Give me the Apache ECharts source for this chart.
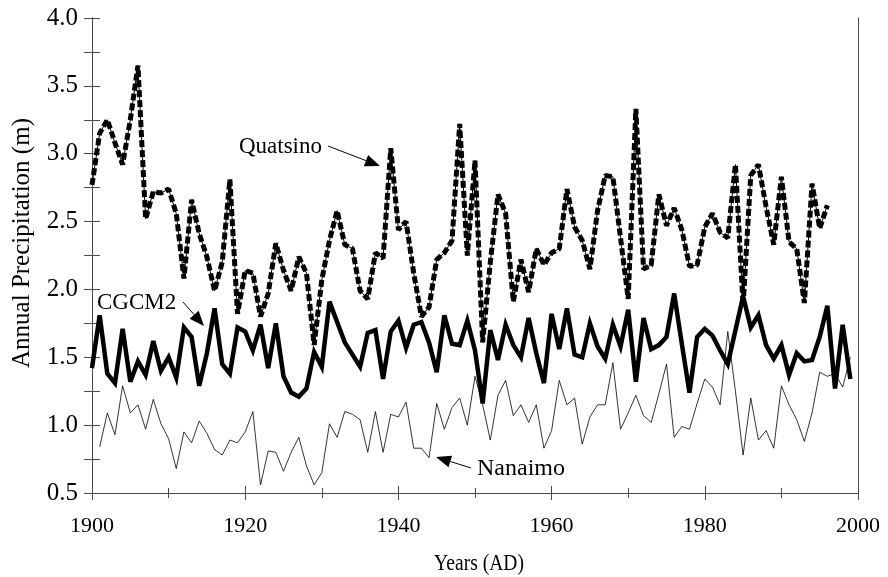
<!DOCTYPE html>
<html>
<head>
<meta charset="utf-8">
<script src="https://cdn.jsdelivr.net/npm/echarts@6/dist/echarts.min.js"></script>
<style>
  html, body { margin: 0; padding: 0; background: #fff; }
  #main { width: 888px; height: 577px; }
</style>
</head>
<body>
<div id="main"></div>
<script>
// annual precipitation (m)
var quatsinoStart = 1900;
var quatsino = [
  2.77, 3.15, 3.25, 3.08, 2.92, 3.25, 3.65, 2.52, 2.72, 2.71,
  2.74, 2.56, 2.08, 2.66, 2.41, 2.24, 1.99, 2.20, 2.81, 1.82,
  2.14, 2.12, 1.80, 1.97, 2.34, 2.14, 1.99, 2.24, 2.12, 1.59,
  2.07, 2.36, 2.58, 2.33, 2.30, 1.99, 1.93, 2.27, 2.23, 3.04,
  2.44, 2.50, 2.12, 1.80, 1.87, 2.22, 2.27, 2.36, 3.22, 2.25,
  2.95, 1.61, 2.20, 2.70, 2.56, 1.91, 2.22, 1.98, 2.30, 2.18,
  2.27, 2.30, 2.74, 2.46, 2.36, 2.15, 2.58, 2.84, 2.83, 2.38,
  1.93, 3.33, 2.15, 2.18, 2.70, 2.47, 2.60, 2.44, 2.17, 2.18,
  2.46, 2.56, 2.42, 2.38, 2.92, 1.88, 2.84, 2.92, 2.61, 2.33,
  2.83, 2.35, 2.30, 1.90, 2.78, 2.45, 2.62
];

var cgcm2Start = 1900;
var cgcm2 = [
  1.42, 1.81, 1.38, 1.31, 1.71, 1.32, 1.47, 1.37, 1.62, 1.40,
  1.50, 1.35, 1.72, 1.65, 1.29, 1.53, 1.86, 1.45, 1.38, 1.72,
  1.69, 1.55, 1.74, 1.42, 1.75, 1.36, 1.24, 1.21, 1.27, 1.54,
  1.43, 1.91, 1.76, 1.61, 1.52, 1.43, 1.68, 1.70, 1.34, 1.69,
  1.77, 1.57, 1.74, 1.76, 1.61, 1.39, 1.81, 1.60, 1.59, 1.77,
  1.55, 1.16, 1.70, 1.48, 1.74, 1.59, 1.50, 1.79, 1.53, 1.31,
  1.82, 1.56, 1.86, 1.52, 1.50, 1.75, 1.58, 1.49, 1.74, 1.58,
  1.85, 1.32, 1.79, 1.56, 1.59, 1.65, 1.97, 1.60, 1.24, 1.65,
  1.71, 1.66, 1.55, 1.45, 1.70, 1.95, 1.72, 1.81, 1.59, 1.49,
  1.59, 1.37, 1.53, 1.47, 1.48, 1.65, 1.88, 1.27, 1.74, 1.34
];

var nanaimoStart = 1901;
var nanaimo = [
        0.84, 1.09, 0.93, 1.29, 1.09, 1.15, 0.97, 1.19, 1.01,
  0.90, 0.68, 0.95, 0.87, 1.03, 0.94, 0.82, 0.78, 0.89, 0.87,
  0.95, 1.10, 0.56, 0.81, 0.80, 0.66, 0.80, 0.91, 0.70, 0.56,
  0.65, 1.01, 0.91, 1.10, 1.08, 1.04, 0.80, 1.10, 0.80, 1.08,
  1.06, 1.17, 0.83, 0.83, 0.76, 1.16, 0.97, 1.13, 1.20, 1.00,
  1.36, 1.15, 0.89, 1.22, 1.33, 1.07, 1.15, 1.02, 1.15, 0.83,
  0.96, 1.33, 1.15, 1.20, 0.86, 1.06, 1.15, 1.15, 1.46, 0.97,
  1.09, 1.22, 1.07, 1.02, 1.23, 1.45, 0.91, 0.99, 0.97, 1.16,
  1.34, 1.28, 1.15, 1.69, 1.25, 0.78, 1.20, 0.89, 0.96, 0.83,
  1.29, 1.15, 1.04, 0.88, 1.09, 1.39, 1.36, 1.38, 1.28, 1.50
];

var xTicks = [1900, 1920, 1940, 1960, 1980, 2000];
var yTicks = [0.5, 1.0, 1.5, 2.0, 2.5, 3.0, 3.5, 4.0];

var FONT = '"Liberation Serif", "DejaVu Serif", serif';
var AXIS = '#4a4a4a';

function pairs(start, vals) {
  return vals.map(function (v, i) { return [start + i, v]; });
}

// small arrow: line plus filled head, pixel coords
function arrow(x1, y1, x2, y2) {
  var dx = x2 - x1, dy = y2 - y1;
  var len = Math.sqrt(dx * dx + dy * dy);
  var ux = dx / len, uy = dy / len;
  var hl = 15, hw = 6;
  var bx = x2 - ux * hl, by = y2 - uy * hl;
  return [{
    type: 'line',
    shape: { x1: x1, y1: y1, x2: bx, y2: by },
    style: { stroke: '#000', lineWidth: 1 }
  }, {
    type: 'polygon',
    shape: { points: [[x2, y2], [bx - uy * hw, by + ux * hw], [bx + uy * hw, by - ux * hw]] },
    style: { fill: '#000' }
  }];
}

function yLabel(v) {
  return Math.abs(v * 2 - Math.round(v * 2)) < 1e-6 ? v.toFixed(1) : '';
}

var chart = echarts.init(document.getElementById('main'), null, { renderer: 'canvas' });

var xBase = {
  type: 'value',
  min: xTicks[0],
  max: xTicks[xTicks.length - 1],
  interval: 20,
  position: 'bottom',
  axisLine: { onZero: false, lineStyle: { color: AXIS, width: 1 } },
  splitLine: { show: false },
  minorTick: { show: true, splitNumber: 2, length: 5, lineStyle: { color: AXIS } },
  axisTick: { length: 7, lineStyle: { color: AXIS } }
};

var yBase = {
  type: 'value',
  min: yTicks[0],
  max: yTicks[yTicks.length - 1],
  interval: 0.25,
  position: 'left',
  axisLine: { show: true, onZero: false, lineStyle: { color: AXIS, width: 1 } },
  splitLine: { show: false },
  axisTick: { length: 8, lineStyle: { color: AXIS } }
};

var option = {
  backgroundColor: '#ffffff',
  animation: false,
  grid: { left: 92, right: 30, top: 18, bottom: 84, containLabel: false },
  xAxis: [
    echarts.util.merge({
      axisLabel: { color: '#000', fontFamily: FONT, fontSize: 22, margin: 22, formatter: function (v) { return String(v); } }
    }, xBase, true),
    echarts.util.merge({
      axisLabel: { show: false },
      axisTick: { inside: true },
      minorTick: { show: true }
    }, xBase, false)
  ],
  yAxis: [
    echarts.util.merge({
      axisLabel: { color: '#000', fontFamily: FONT, fontSize: 25, margin: 14, formatter: yLabel }
    }, yBase, true),
    echarts.util.merge({
      axisLabel: { show: false },
      axisTick: { inside: true }
    }, yBase, false),
    {
      type: 'value', min: yTicks[0], max: yTicks[yTicks.length - 1], position: 'right',
      axisLine: { show: true, onZero: false, lineStyle: { color: AXIS, width: 1 } },
      axisTick: { show: false }, axisLabel: { show: false }, splitLine: { show: false }
    }
  ],
  series: [
    {
      name: 'Nanaimo', type: 'line', data: pairs(nanaimoStart, nanaimo),
      showSymbol: false, lineStyle: { color: '#000', width: 0.8 }
    },
    {
      name: 'CGCM2', type: 'line', data: pairs(cgcm2Start, cgcm2),
      showSymbol: false, lineStyle: { color: '#000', width: 4.5, join: 'miter', miterLimit: 4 }
    },
    {
      name: 'Quatsino', type: 'line', data: pairs(quatsinoStart, quatsino),
      showSymbol: false, lineStyle: { color: '#000', width: 1 }
    },
    {
      name: 'Quatsino dash', type: 'line', data: pairs(quatsinoStart, quatsino),
      showSymbol: false, lineStyle: { color: '#000', width: 5, type: [7, 3] }
    }
  ],
  graphic: [
    {
      type: 'text', x: 22, y: 243, rotation: Math.PI / 2,
      style: { text: 'Annual Precipitation (m)', font: '25px ' + FONT, fill: '#000', align: 'center', verticalAlign: 'middle' }
    },
    {
      type: 'text', x: 479, y: 564, scaleX: 0.85,
      style: { text: 'Years (AD)', font: '23px ' + FONT, fill: '#000', align: 'center', verticalAlign: 'middle' }
    },
    {
      type: 'text', x: 322, y: 147,
      style: { text: 'Quatsino', font: '23px ' + FONT, fill: '#000', align: 'right', verticalAlign: 'middle' }
    },
    {
      type: 'text', x: 97, y: 303,
      style: { text: 'CGCM2', font: '23px ' + FONT, fill: '#000', align: 'left', verticalAlign: 'middle' }
    },
    {
      type: 'text', x: 477, y: 469,
      style: { text: 'Nanaimo', font: '24px ' + FONT, fill: '#000', align: 'left', verticalAlign: 'middle' }
    }
  ].concat(arrow(328, 146, 380, 166), arrow(183, 302, 204, 326), arrow(471, 468, 436, 457))
};

chart.setOption(option);
</script>
</body>
</html>
